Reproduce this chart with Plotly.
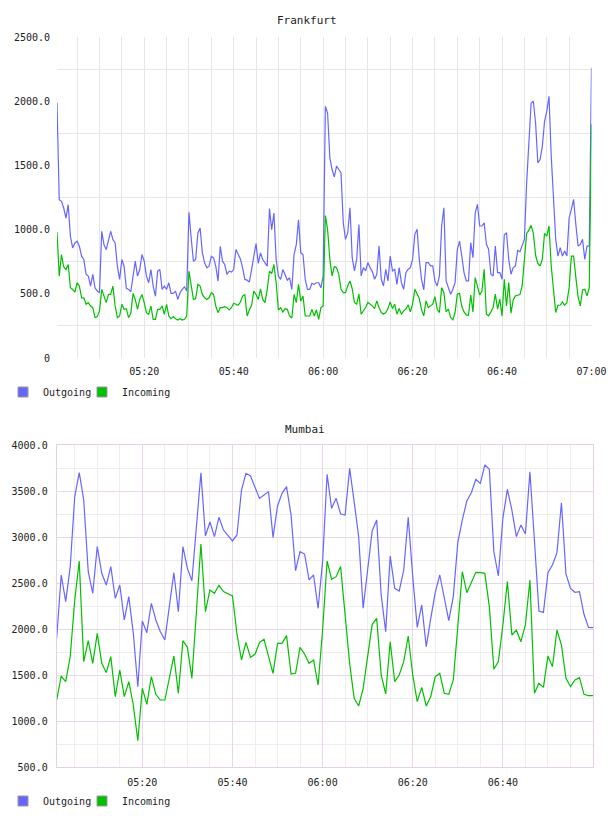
import pandas as pd
import plotly.graph_objects as go

# ---------------- data ----------------
fra_start = "2014-01-01 05:00:30"   # Frankfurt samples every 30 s
fra_step = "30s"
fra_out = [
    1988, 1233, 1220, 1168, 1090, 1194, 948, 857, 896, 909,
    870, 793, 767, 651, 638, 560, 651, 547, 521, 508,
    987, 883, 844, 909, 987, 922, 896, 715, 612, 767,
    715, 542, 534, 516, 638, 754, 638, 689, 806, 754,
    638, 586, 689, 560, 482, 676, 689, 534, 560, 534,
    586, 503, 503, 521, 456, 508, 534, 555, 521, 1134,
    935, 754, 767, 974, 1013, 819, 741, 702, 715, 793,
    780, 715, 599, 870, 754, 728, 651, 676, 669, 689,
    845, 806, 772, 702, 612, 607, 591, 689, 806, 891,
    736, 819, 767, 736, 715, 1163, 1000, 1129, 767, 638,
    612, 689, 651, 607, 625, 534, 806, 883, 1077, 819,
    806, 612, 534, 534, 581, 573, 586, 586, 547, 638,
    1960, 1908, 1558, 1468, 1411, 1494, 1468, 1442, 1053, 924,
    976, 1170, 781, 678, 768, 1040, 639, 704, 678, 743,
    704, 673, 613, 652, 872, 613, 561, 691, 600, 794,
    678, 691, 574, 704, 587, 535, 665, 691, 704, 768,
    963, 1002, 768, 613, 530, 743, 743, 717, 717, 600,
    561, 639, 1028, 1170, 600, 548, 497, 535, 587, 846,
    911, 794, 665, 600, 600, 898, 781, 1131, 1196, 1028,
    1028, 1053, 885, 846, 652, 639, 872, 665, 665, 613,
    958, 976, 768, 652, 704, 717, 838, 828, 872, 924,
    1364, 1688, 1986, 2000, 1830, 1520, 1545, 1644, 1843, 1921,
    2038, 1571, 1248, 924, 794, 859, 794, 833, 794, 1092,
    1157, 1235, 1040, 872, 885, 924, 768, 872, 872, 2260,
]
fra_in = [
    982, 637, 806, 710, 689, 728, 547, 534, 513, 586,
    560, 469, 469, 418, 431, 405, 392, 314, 322, 366,
    534, 477, 431, 495, 495, 560, 405, 314, 327, 418,
    379, 384, 314, 348, 503, 456, 379, 456, 495, 431,
    353, 340, 405, 301, 301, 379, 379, 405, 340, 418,
    327, 306, 322, 306, 296, 306, 296, 301, 327, 676,
    573, 456, 462, 573, 560, 495, 469, 456, 469, 508,
    495, 405, 353, 392, 392, 400, 392, 374, 392, 426,
    418, 410, 436, 482, 495, 327, 374, 410, 521, 495,
    456, 539, 456, 431, 534, 676, 658, 728, 586, 374,
    392, 358, 384, 379, 327, 312, 495, 431, 573, 443,
    482, 327, 327, 327, 379, 327, 374, 301, 392, 405,
    1110, 1002, 768, 639, 712, 704, 652, 535, 509, 509,
    561, 600, 541, 432, 419, 497, 341, 367, 393, 432,
    419, 406, 385, 445, 393, 354, 341, 354, 385, 437,
    385, 419, 341, 385, 341, 367, 380, 414, 359, 419,
    535, 497, 463, 375, 328, 445, 393, 406, 419, 478,
    380, 354, 548, 509, 359, 380, 315, 297, 354, 497,
    504, 401, 359, 336, 333, 491, 359, 626, 548, 491,
    522, 691, 341, 328, 359, 393, 497, 380, 458, 328,
    613, 406, 587, 349, 452, 484, 489, 494, 561, 768,
    970, 996, 1033, 970, 800, 737, 717, 768, 970, 950,
    1028, 717, 522, 354, 411, 411, 437, 411, 432, 548,
    794, 794, 626, 478, 406, 530, 535, 484, 548, 1820,
]

mum_start = "2014-01-01 05:01:00"   # Mumbai samples every minute
mum_step = "1min"
mum_out = [
    1899, 2587, 2297, 2678, 3438, 3699, 3402, 2623, 2388, 2895,
    2605, 2478, 2678, 2333, 2478, 2098, 2352, 1953, 1373, 2087,
    1960, 2279, 2098, 1971, 1881, 2243, 2612, 2188, 2895, 2659,
    2525, 3112, 3699, 3011, 3163, 3004, 3214, 3076, 3022, 2957,
    3022, 3511, 3692, 3663, 3540, 3420, 3457, 3493, 2996, 3337,
    3475, 3547, 3239, 2634, 2841, 2815, 2533, 2587, 2225, 2732,
    3681, 3312, 3420, 3250, 3239, 3746, 3384, 3004, 2225, 2678,
    3065, 3185, 2370, 1971, 2794, 2442, 2413, 2641, 3214, 2569,
    2018, 2261, 1808, 2116, 2399, 2587, 2352, 2091, 2352, 2938,
    3185, 3391, 3482, 3627, 3583, 3783, 3736, 2841, 2576, 3203,
    3518, 3293, 3004, 3130, 3033, 3710, 2967, 2196, 2181, 2612,
    2696, 2830, 3373, 2598, 2442, 2399, 2406, 2160, 2018, 2015,
]
mum_in = [
    1228, 1489, 1428, 1699, 2315, 2739, 1645, 1873, 1627, 1953,
    1627, 1526, 1699, 1265, 1554, 1265, 1428, 1174, 786, 1355,
    1181, 1482, 1290, 1228, 1228, 1464, 1707, 1301, 1873, 1801,
    1464, 2188, 2924, 2188, 2424, 2388, 2475, 2406, 2380, 2359,
    1946, 1663, 1855, 1692, 1725, 1852, 1888, 1699, 1518, 1844,
    1844, 1928, 1511, 1518, 1801, 1728, 1627, 1663, 1391, 1989,
    2739, 2540, 2569, 2678, 2134, 1627, 1247, 1163, 1355, 1728,
    2051, 2116, 1500, 1294, 1862, 1428, 1500, 1645, 1924, 1500,
    1210, 1366, 1163, 1265, 1482, 1518, 1301, 1290, 1446, 2025,
    2623, 2395, 2515, 2616, 2612, 2605, 2243, 1562, 1645, 2044,
    2515, 1935, 1989, 1862, 2044, 2533, 1301, 1410, 1366, 1707,
    1591, 1989, 1826, 1464, 1373, 1446, 1471, 1290, 1275, 1275,
]

series_names = ["Outgoing", "Incoming"]
titles = ["Frankfurt", "Mumbai"]

fra_yticks = [0, 500, 1000, 1500, 2000, 2500]
fra_ylabels = ["0", "500.0", "1000.0", "1500.0", "2000.0", "2500.0"]
fra_ygrid = [250, 750, 1250, 1750, 2250]
mum_yticks = [500, 1000, 1500, 2000, 2500, 3000, 3500, 4000]
mum_ylabels = ["500.0", "1000.0", "1500.0", "2000.0", "2500.0", "3000.0", "3500.0", "4000.0"]

# ---------------- styling ----------------
BLUE = "#6666ff"
GREEN = "#00c000"
GRID = "#e6e6e6"
PINK = "#ead6ea"
PINK_LINE = "#e6d0e6"
FONT = "DejaVu Sans Mono"
W, H = 608, 816


def px_x(a, b):
    return [a / W, b / W]


def px_y(top, bottom):
    return [1 - bottom / H, 1 - top / H]


fra_t = pd.date_range(fra_start, periods=len(fra_out), freq=fra_step)
mum_t = pd.date_range(mum_start, periods=len(mum_out), freq=mum_step)

fig = go.Figure()

for t, outv, inv, xa, ya in [(fra_t, fra_out, fra_in, "x", "y"),
                             (mum_t, mum_out, mum_in, "x2", "y2")]:
    fig.add_trace(go.Scatter(x=t, y=outv, mode="lines", name=series_names[0],
                             line=dict(color=BLUE, width=1.2), showlegend=False,
                             xaxis=xa, yaxis=ya))
    fig.add_trace(go.Scatter(x=t, y=inv, mode="lines", name=series_names[1],
                             line=dict(color=GREEN, width=1.2), showlegend=False,
                             xaxis=xa, yaxis=ya))

# legend entries (square swatches), one legend per entry for exact placement
legend_specs = [("legend", "x", "y", 0), ("legend2", "x", "y", 1),
                ("legend3", "x2", "y2", 0), ("legend4", "x2", "y2", 1)]
for lg, xa, ya, idx in legend_specs:
    fig.add_trace(go.Scatter(x=[None], y=[None], mode="markers", name=series_names[idx],
                             marker=dict(symbol="square", size=10, color=[BLUE, GREEN][idx],
                                         line=dict(color="#999999", width=1)),
                             legend=lg, xaxis=xa, yaxis=ya, hoverinfo="skip"))

tickfont = dict(family=FONT, size=10, color="#222")
MIN20 = 20 * 60 * 1000
MIN5 = 5 * 60 * 1000

xcommon = dict(type="date", tickformat="%H:%M", tick0="2014-01-01 05:00", dtick=MIN20,
               ticks="", zeroline=False, tickfont=tickfont, ticklabelstandoff=6,
               fixedrange=True, automargin=False)
ycommon = dict(ticks="", zeroline=False, tickfont=tickfont, ticklabelstandoff=6,
               fixedrange=True, automargin=False)


def legend_box(x_px, y_px):
    return dict(orientation="h", x=x_px / W, xanchor="left", y=1 - y_px / H,
                yanchor="middle", font=dict(family=FONT, size=10, color="#222"),
                bgcolor="rgba(0,0,0,0)", itemwidth=30,
                itemclick=False, itemdoubleclick=False)


fig.update_layout(
    width=W, height=H, autosize=False,
    margin=dict(l=0, r=0, t=0, b=0, autoexpand=False),
    paper_bgcolor="white", plot_bgcolor="white",
    font=dict(family=FONT, size=10, color="#222"),
    xaxis=dict(**xcommon, domain=px_x(57, 591.5), anchor="y",
               range=["2014-01-01 05:00:30", "2014-01-01 07:00:00"],
               showgrid=True, gridcolor=GRID, showline=False,
               minor=dict(dtick=MIN5, tick0="2014-01-01 05:00", showgrid=True,
                          gridcolor=GRID, ticks="")),
    yaxis=dict(**ycommon, domain=px_y(37, 358), anchor="x", range=[0, 2500],
               tickmode="array", tickvals=fra_yticks, ticktext=fra_ylabels,
               showgrid=False, showline=False,
               minor=dict(tickmode="array", tickvals=fra_ygrid, showgrid=True,
                          gridcolor=GRID, ticks="")),
    xaxis2=dict(**xcommon, domain=px_x(56.7, 593), anchor="y2",
                range=["2014-01-01 05:01:00", "2014-01-01 07:00:00"],
                showgrid=True, gridcolor=PINK,
                showline=True, linecolor=PINK_LINE, linewidth=1, mirror=True,
                minor=dict(dtick=MIN5, tick0="2014-01-01 05:00", showgrid=True,
                           gridcolor="#eeeeee", ticks="")),
    yaxis2=dict(**ycommon, domain=px_y(445, 767), anchor="x2", range=[500, 4000],
                tickmode="array", tickvals=mum_yticks, ticktext=mum_ylabels,
                showgrid=True, gridcolor=PINK,
                showline=True, linecolor=PINK_LINE, linewidth=1, mirror=True,
                minor=dict(dtick=250, tick0=0, showgrid=True, gridcolor="#eeeeee",
                           ticks="")),
    legend=legend_box(3, 392),
    legend2=legend_box(82, 392),
    legend3=legend_box(3, 801),
    legend4=legend_box(82, 801),
    annotations=[
        dict(text=titles[0], x=307 / W, y=1 - 20 / H, xref="paper", yref="paper",
             showarrow=False, font=dict(family=FONT, size=11, color="#222"),
             xanchor="center", yanchor="middle"),
        dict(text=titles[1], x=305 / W, y=1 - 429 / H, xref="paper", yref="paper",
             showarrow=False, font=dict(family=FONT, size=11, color="#222"),
             xanchor="center", yanchor="middle"),
    ],
)

fig.write_html("out.html")
